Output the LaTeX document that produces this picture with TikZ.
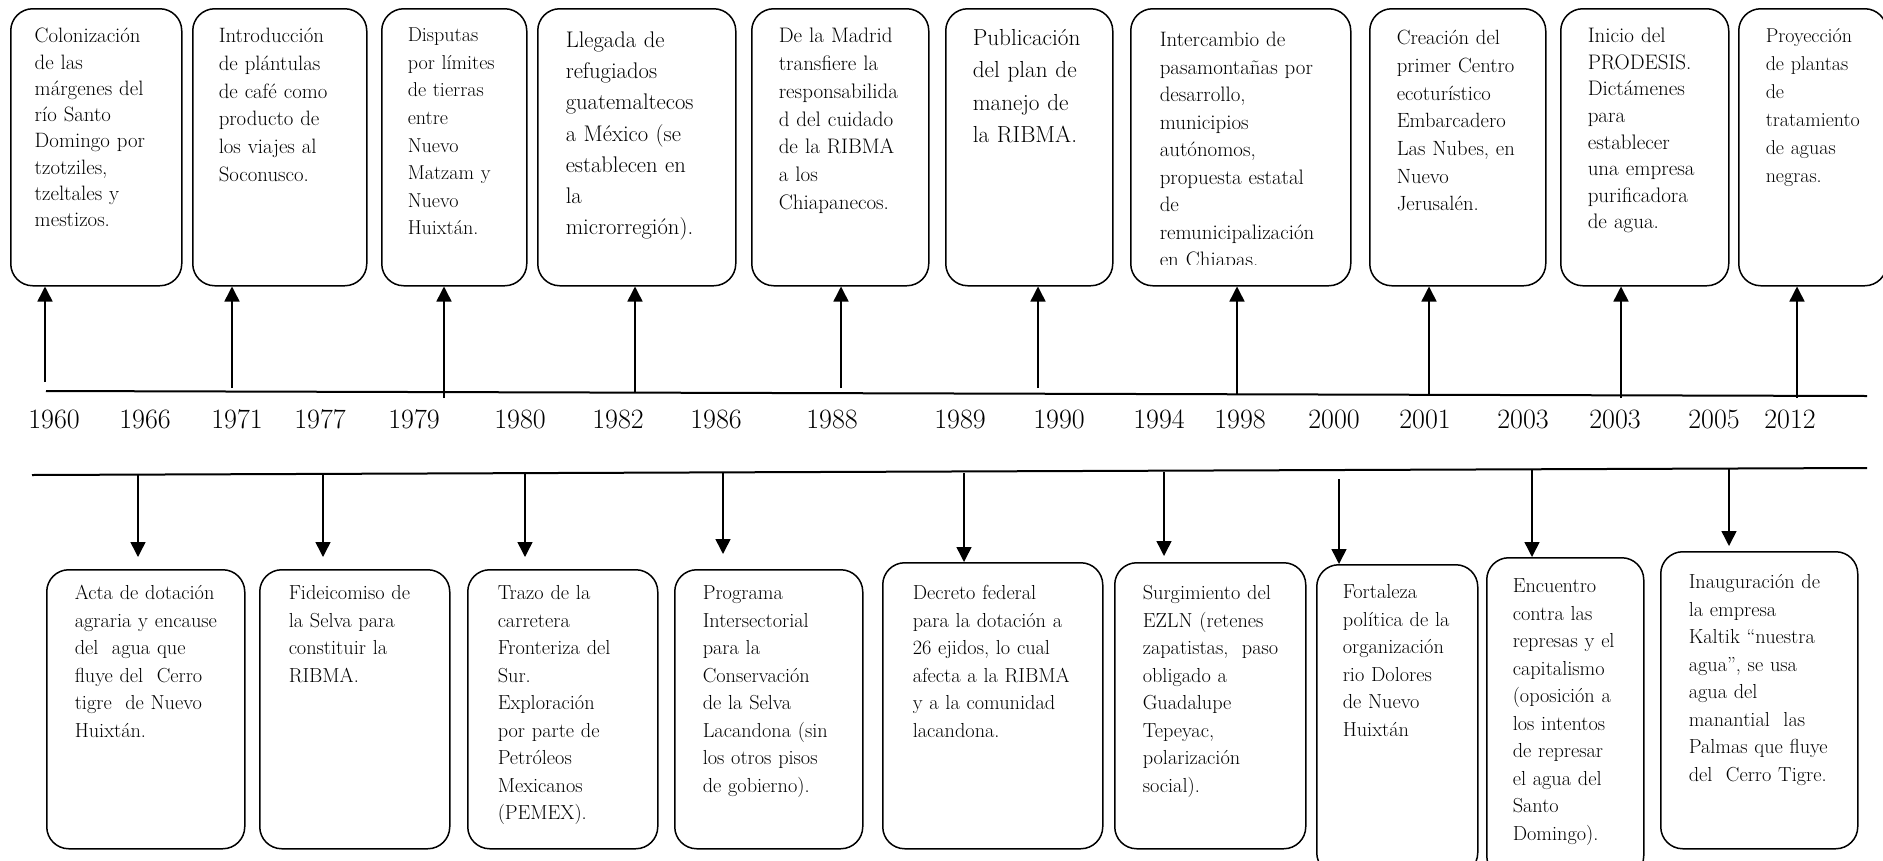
\documentclass[tikz,border=0pt]{standalone}
\usepackage{fontspec}
\usetikzlibrary{arrows.meta}

\begin{document}
\begin{tikzpicture}[x=1pt, y=-1pt, >={Triangle[length=15pt,width=15pt]}, line width=1.5pt,
    evt/.style={draw, rounded corners=22pt, anchor=north west, inner sep=0pt, align=left,
      font=\fontsize{20.8}{27.7}\selectfont},
    evtlow/.style={evt, font=\fontsize{20.3}{27.5}\selectfont},
    year/.style={inner sep=0pt, font=\fontsize{28}{30}\selectfont},
    axis/.style={line width=2pt}]
  \clip (0,0) rectangle (1883,860);

  % events above the timeline
  \node[evt, text width=171pt, text height=34pt, text depth=243pt, font=\fontsize{20.8}{26.3}\selectfont] (t1) at (10,8)
    {\leftskip=24pt Colonización\\de las\\márgenes del\\río Santo\\Domingo por\\tzotziles,\\tzeltales y\\mestizos.\par};
  \node[evt, text width=174pt, text height=34pt, text depth=243pt] (t2) at (192,8)
    {\leftskip=26pt Introducción\\de plántulas\\de café como\\producto de\\los viajes al\\Soconusco.\par};
  \node[evt, text width=145pt, text height=33pt, text depth=244pt, font=\fontsize{20.1}{27.6}\selectfont] (t3) at (381,8)
    {\leftskip=26pt Disputas\\por límites\\de tierras\\entre\\Nuevo\\Matzam y\\Nuevo\\Huixtán.\par};
  \node[evt, text width=198pt, text height=39pt, text depth=238pt, font=\fontsize{22.6}{31.1}\selectfont] (t4) at (537,8)
    {\leftskip=28pt Llegada de\\refugiados\\guatemaltecos\\a México (se\\establecen en\\la\\microrregión).\par};
  \node[evt, text width=177pt, text height=34pt, text depth=243pt, font=\fontsize{21}{27.8}\selectfont] (t5) at (751,8)
    {\leftskip=27pt De la Madrid\\transfiere la\\responsabilida\\d del cuidado\\de la RIBMA\\a los\\Chiapanecos.\par};
  \node[evt, text width=167pt, text height=37pt, text depth=240pt, font=\fontsize{23.2}{32.2}\selectfont] (t6) at (945,8)
    {\leftskip=27pt Publicación\\del plan de\\manejo de\\la RIBMA.\par};
  \begin{scope}
    \clip (1130,8) rectangle (1350,264);
    \node[evt, draw=none, text width=220pt, text height=38pt, text depth=239pt, font=\fontsize{20.9}{27.5}\selectfont] (t7text) at (1130,8)
      {\leftskip=29pt Intercambio de\\pasamontañas por\\desarrollo,\\municipios\\autónomos,\\propuesta estatal\\de\\remunicipalización\\en Chiapas.\par};
  \end{scope}
  \node[evt, text width=220pt, text height=38pt, text depth=239pt] (t7) at (1130,8) {};
  \node[evt, text width=176pt, text height=36pt, text depth=241pt, font=\fontsize{20.6}{27.7}\selectfont] (t8) at (1369,8)
    {\leftskip=27pt Creación del\\primer Centro\\ecoturístico\\Embarcadero\\Las Nubes, en\\Nuevo\\Jerusalén.\par};
  \node[evt, text width=168pt, text height=34pt, text depth=243pt, font=\fontsize{21}{26.6}\selectfont] (t9) at (1560,8)
    {\leftskip=27pt Inicio del\\PRODESIS.\\Dictámenes\\para\\establecer\\una empresa\\purificadora\\de agua.\par};
  \node[evt, text width=148pt, text height=34pt, text depth=243pt, font=\fontsize{20}{28}\selectfont] (t10) at (1738,8)
    {\leftskip=27pt Proyección\\de plantas\\de\\tratamiento\\de aguas\\negras.\par};

  % the two timeline rules
  \coordinate (axL) at (46,391);
  \coordinate (axR) at (1867,396);
  \draw[axis] (axL) -- (axR);
  \coordinate (lowL) at (32,475);
  \coordinate (lowR) at (1867,468);
  \draw[axis] (lowL) -- (lowR);

  % years
  \node[year] (y1) at (54,419) {1960};
  \node[year] (y2) at (145,419) {1966};
  \node[year] (y3) at (237,419) {1971};
  \node[year] (y4) at (320,419) {1977};
  \node[year] (y5) at (414,419) {1979};
  \node[year] (y6) at (520,419) {1980};
  \node[year] (y7) at (618,419) {1982};
  \node[year] (y8) at (716,419) {1986};
  \node[year] (y9) at (832,419) {1988};
  \node[year] (y10) at (960,419) {1989};
  \node[year] (y11) at (1059,419) {1990};
  \node[year] (y12) at (1159,419) {1994};
  \node[year] (y13) at (1240,419) {1998};
  \node[year] (y14) at (1334,419) {2000};
  \node[year] (y15) at (1425,419) {2001};
  \node[year] (y16) at (1523,419) {2003};
  \node[year] (y17) at (1615,419) {2003};
  \node[year] (y18) at (1714,419) {2005};
  \node[year] (y19) at (1790,419) {2012};

  % arrows up to the upper events
  \coordinate (u1) at (45,382);
  \coordinate (u2) at (232,388);
  \coordinate (u3) at (444,398);
  \coordinate (u4) at (635,393);
  \coordinate (u5) at (841,388);
  \coordinate (u6) at (1038,388);
  \coordinate (u7) at (1237,394);
  \coordinate (u8) at (1429,395);
  \coordinate (u9) at (1621,398);
  \coordinate (u10) at (1797,398);
  \draw[->] (u1) -- (u1 |- t1.south);
  \draw[->] (u2) -- (u2 |- t2.south);
  \draw[->] (u3) -- (u3 |- t3.south);
  \draw[->] (u4) -- (u4 |- t4.south);
  \draw[->] (u5) -- (u5 |- t5.south);
  \draw[->] (u6) -- (u6 |- t6.south);
  \draw[->] (u7) -- (u7 |- t7.south);
  \draw[->] (u8) -- (u8 |- t8.south);
  \draw[->] (u9) -- (u9 |- t9.south);
  \draw[->] (u10) -- (u10 |- t10.south);

  % events below the timeline
  \node[evtlow, text width=198pt, text height=30pt, text depth=249pt] (b1) at (46,569)
    {\leftskip=28pt Acta de dotación\\agraria y encause\\del\ \ agua que\\fluye del\ \ Cerro\\tigre\ \ de Nuevo\\Huixtán.\par};
  \node[evtlow, text width=190pt, text height=30pt, text depth=249pt] (b2) at (259,569)
    {\leftskip=29pt Fideicomiso de\\la Selva para\\constituir la\\RIBMA.\par};
  \node[evtlow, text width=190pt, text height=30pt, text depth=249pt] (b3) at (467,569)
    {\leftskip=30pt Trazo de la\\carretera\\Fronteriza del\\Sur.\\Exploración\\por parte de\\Petróleos\\Mexicanos\\(PEMEX).\par};
  \node[evtlow, text width=188pt, text height=30pt, text depth=249pt] (b4) at (674,569)
    {\leftskip=28pt Programa\\Intersectorial\\para la\\Conservación\\de la Selva\\Lacandona (sin\\los otros pisos\\de gobierno).\par};
  \node[evtlow, text width=220pt, text height=37pt, text depth=249pt] (b5) at (882,562)
    {\leftskip=30pt Decreto federal\\para la dotación a\\26 ejidos, lo cual\\afecta a la RIBMA\\y a la comunidad\\lacandona.\par};
  \node[evtlow, text width=191pt, text height=37pt, text depth=249pt] (b6) at (1114,562)
    {\leftskip=28pt Surgimiento del\\EZLN (retenes\\zapatistas,\ \ paso\\obligado a\\Guadalupe\\Tepeyac,\\polarización\\social).\par};
  \node[evtlow, text width=161pt, text height=34pt, text depth=276pt] (b7) at (1316,564)
    {\leftskip=26pt Fortaleza\\política de la\\organización\\rio Dolores\\de Nuevo\\Huixtán\par};
  \node[evtlow, text width=157pt, text height=35pt, text depth=285pt] (b8) at (1486,557)
    {\leftskip=26pt Encuentro\\contra las\\represas y el\\capitalismo\\(oposición a\\los intentos\\de represar\\el agua del\\Santo\\Domingo).\par};
  \node[evtlow, text width=197pt, text height=37pt, text depth=260pt] (b9) at (1660,551)
    {\leftskip=28pt Inauguración de\\la empresa\\Kaltik “nuestra\\agua”, se usa\\agua del\\manantial\ \ las\\Palmas que fluye\\del\ \ Cerro Tigre.\par};

  % arrows down to the lower events
  \coordinate (d1) at (138,475);
  \coordinate (d2) at (323,475);
  \coordinate (d3) at (525,474);
  \coordinate (d4) at (723,473);
  \coordinate (d5) at (964,473);
  \coordinate (d6) at (1164,472);
  \coordinate (d7) at (1339,479);
  \coordinate (d8) at (1532,470);
  \coordinate (d9) at (1729,469);
  \draw[->, shorten >=12pt] (d1) -- (d1 |- b1.north);
  \draw[->, shorten >=12pt] (d2) -- (d2 |- b2.north);
  \draw[->, shorten >=12pt] (d3) -- (d3 |- b3.north);
  \draw[->, shorten >=15pt] (d4) -- (d4 |- b4.north);
  \draw[->] (d5) -- (d5 |- b5.north);
  \draw[->, shorten >=6pt] (d6) -- (d6 |- b6.north);
  \draw[->] (d7) -- (d7 |- b7.north);
  \draw[->] (d8) -- (d8 |- b8.north);
  \draw[->, shorten >=5pt] (d9) -- (d9 |- b9.north);
\end{tikzpicture}
\end{document}
